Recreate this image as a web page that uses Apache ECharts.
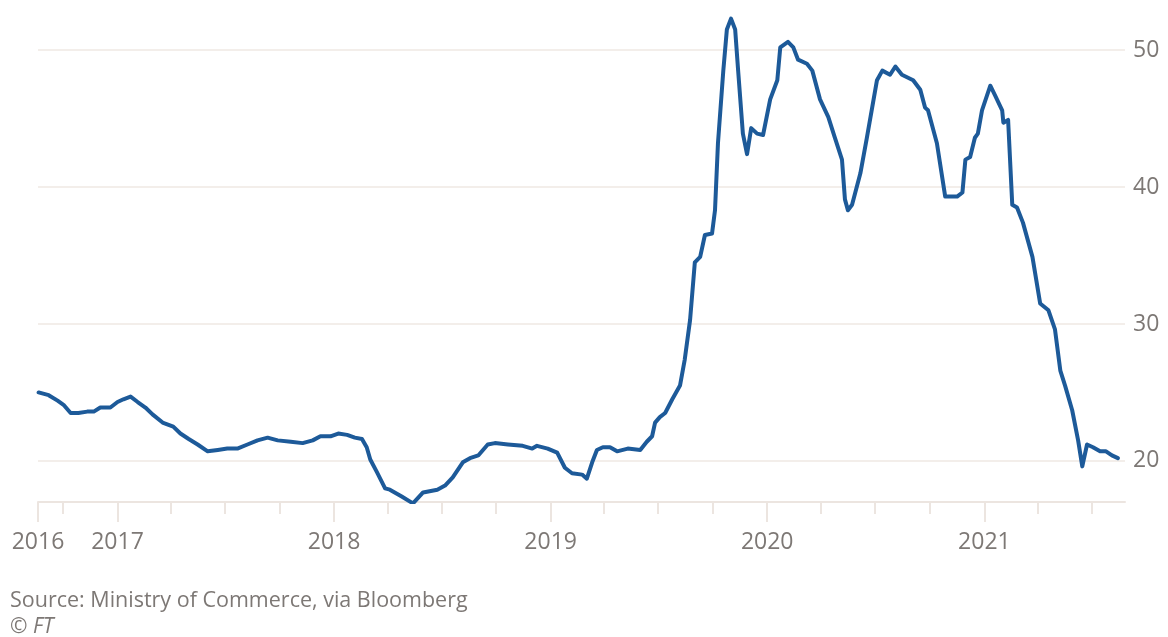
<!DOCTYPE html>
<html>
<head>
<meta charset="utf-8">
<script src="https://cdn.jsdelivr.net/npm/echarts@6/dist/echarts.min.js"></script>
<style>
  html, body { margin: 0; padding: 0; background: #fff; }
  #chart { width: 1168px; height: 637px; }
</style>
</head>
<body>
<div id="chart"></div>
<script>
// weekly-ish readings
var dates = [
  '2016-08-21', '2016-09-07', '2016-09-22', '2016-10-02', '2016-10-14', '2016-10-27', '2016-11-11', '2016-11-22',
  '2016-12-03', '2016-12-20', '2017-01-01', '2017-01-11', '2017-01-23', '2017-02-04', '2017-02-17', '2017-03-01',
  '2017-03-18', '2017-04-05', '2017-04-17', '2017-05-01', '2017-05-16', '2017-06-02', '2017-06-19', '2017-07-05',
  '2017-07-22', '2017-08-08', '2017-08-25', '2017-09-11', '2017-09-28', '2017-10-20', '2017-11-09', '2017-11-26',
  '2017-12-09', '2017-12-26', '2018-01-08', '2018-01-23', '2018-02-05', '2018-02-17', '2018-02-25', '2018-03-03',
  '2018-03-14', '2018-03-28', '2018-04-05', '2018-04-25', '2018-05-14', '2018-05-31', '2018-06-24', '2018-07-07',
  '2018-07-20', '2018-08-06', '2018-08-18', '2018-09-01', '2018-09-17', '2018-09-29', '2018-10-21', '2018-11-15',
  '2018-12-01', '2018-12-09', '2018-12-27', '2019-01-12', '2019-01-25', '2019-02-06', '2019-02-23', '2019-03-03',
  '2019-03-12', '2019-03-20', '2019-03-30', '2019-04-11', '2019-04-23', '2019-05-11', '2019-06-01', '2019-06-12',
  '2019-06-21', '2019-06-26', '2019-07-04', '2019-07-13', '2019-07-25', '2019-08-07', '2019-08-15', '2019-08-24',
  '2019-09-01', '2019-09-10', '2019-09-18', '2019-09-30', '2019-10-05', '2019-10-10', '2019-10-19', '2019-10-25',
  '2019-11-01', '2019-11-08', '2019-11-13', '2019-11-21', '2019-11-28', '2019-12-05', '2019-12-15', '2019-12-25',
  '2020-01-06', '2020-01-18', '2020-01-23', '2020-02-05', '2020-02-14', '2020-02-22', '2020-03-08', '2020-03-17',
  '2020-03-30', '2020-04-13', '2020-04-24', '2020-05-06', '2020-05-11', '2020-05-16', '2020-05-23', '2020-06-06',
  '2020-06-17', '2020-07-04', '2020-07-13', '2020-07-26', '2020-08-04', '2020-08-15', '2020-09-03', '2020-09-15',
  '2020-09-23', '2020-09-28', '2020-10-13', '2020-10-27', '2020-11-16', '2020-11-25', '2020-11-30', '2020-12-08',
  '2020-12-16', '2020-12-21', '2020-12-28', '2021-01-11', '2021-01-19', '2021-01-31', '2021-02-02', '2021-02-10',
  '2021-02-17', '2021-02-25', '2021-03-07', '2021-03-23', '2021-04-05', '2021-04-19', '2021-04-30', '2021-05-09',
  '2021-05-17', '2021-05-29', '2021-06-08', '2021-06-15', '2021-06-23', '2021-07-03', '2021-07-15', '2021-07-25',
  '2021-08-04', '2021-08-14'
]
var values = [
  25.0, 24.8, 24.4, 24.1, 23.5, 23.5, 23.6, 23.6,
  23.9, 23.9, 24.3, 24.5, 24.7, 24.3, 23.9, 23.4,
  22.8, 22.5, 22.0, 21.6, 21.2, 20.7, 20.8, 20.9,
  20.9, 21.2, 21.5, 21.7, 21.5, 21.4, 21.3, 21.5,
  21.8, 21.8, 22.0, 21.9, 21.7, 21.6, 21.0, 20.1,
  19.2, 18.0, 17.9, 17.4, 16.9, 17.7, 17.9, 18.2,
  18.8, 19.9, 20.2, 20.4, 21.2, 21.3, 21.2, 21.1,
  20.9, 21.1, 20.9, 20.6, 19.5, 19.1, 19.0, 18.7,
  19.9, 20.8, 21.0, 21.0, 20.7, 20.9, 20.8, 21.4,
  21.8, 22.8, 23.2, 23.5, 24.5, 25.5, 27.4, 30.3,
  34.5, 34.9, 36.5, 36.6, 38.3, 43.2, 48.5, 51.5,
  52.3, 51.5, 48.5, 43.9, 42.4, 44.3, 43.9, 43.8,
  46.4, 47.8, 50.2, 50.6, 50.2, 49.3, 49.0, 48.5,
  46.4, 45.1, 43.6, 42.0, 39.1, 38.3, 38.7, 41.0,
  43.6, 47.8, 48.5, 48.2, 48.8, 48.2, 47.8, 47.1,
  45.8, 45.6, 43.2, 39.3, 39.3, 39.6, 42.0, 42.2,
  43.6, 43.9, 45.6, 47.4, 46.7, 45.6, 44.7, 44.9,
  38.7, 38.5, 37.4, 34.9, 31.5, 31.0, 29.6, 26.6,
  25.5, 23.7, 21.5, 19.6, 21.2, 21.0, 20.7, 20.7,
  20.4, 20.2
]
var xStart = '2016-08-20'
var xEnd = '2021-08-26'
var yearTicks = ['2016-08-20', '2017-01-01', '2018-01-01', '2019-01-01', '2020-01-01', '2021-01-01']
var quarterTicks = [
  '2016-10-01', '2017-04-01', '2017-07-01', '2017-10-01', '2018-04-01', '2018-07-01', '2018-10-01',
  '2019-04-01', '2019-07-01', '2019-10-01', '2020-04-01', '2020-07-01', '2020-10-01',
  '2021-04-01', '2021-07-01'
]
var yTicks = [20, 30, 40, 50]

// dates as UTC ms so a plain value axis can take custom ticks
function ts (s) {
  var p = s.split('-')
  return Date.UTC(+p[0], +p[1] - 1, +p[2])
}

var chart = echarts.init(document.getElementById('chart'))
var lineCol = '#ece5e0'
var textCol = '#7d7875'
var font = "'Open Sans', 'DejaVu Sans', sans-serif"

var option = {
  backgroundColor: '#fff',
  animation: false,
  grid: { left: 38, right: 43, top: 9, bottom: 135 },
  xAxis: [
    {
      type: 'value',
      position: 'bottom',
      min: ts(xStart),
      max: ts(xEnd),
      axisLine: { show: true, lineStyle: { color: lineCol, width: 2 } },
      axisTick: { show: true, length: 20, customValues: yearTicks.map(ts), lineStyle: { color: lineCol, width: 2 } },
      axisLabel: {
        customValues: yearTicks.map(ts),
        color: textCol,
        fontFamily: font,
        fontSize: 23,
        margin: 29,
        formatter: function (v) {
          return String(new Date(v).getUTCFullYear())
        }
      },
      splitLine: { show: false }
    },
    {
      type: 'value',
      position: 'bottom',
      min: ts(xStart),
      max: ts(xEnd),
      axisLine: { show: false },
      axisTick: { show: true, length: 12, customValues: quarterTicks.map(ts), lineStyle: { color: lineCol, width: 2 } },
      axisLabel: { show: false },
      splitLine: { show: false }
    }
  ],
  yAxis: {
    type: 'value',
    position: 'right',
    min: 17,
    max: 53,
    axisLine: { show: false },
    axisTick: { show: false, customValues: yTicks },
    axisLabel: {
      customValues: yTicks,
      color: textCol,
      fontFamily: font,
      fontSize: 23,
      margin: 8,
      padding: [4, 0, 0, 0]
    },
    splitLine: { show: true, lineStyle: { color: '#f3eeea', width: 2 } }
  },
  series: [
    {
      type: 'line',
      xAxisIndex: 0,
      data: dates.map(function (d, i) { return [ts(d), values[i]] }),
      showSymbol: false,
      lineStyle: { color: '#1d5a99', width: 4, join: 'round', cap: 'round' },
      z: 5
    }
  ],
  graphic: [
    {
      type: 'text',
      left: 10,
      top: 590,
      style: { text: 'Source: Ministry of Commerce, via Bloomberg', fill: textCol, font: '21.5px ' + font }
    },
    {
      type: 'text',
      left: 10,
      top: 617,
      style: { text: '© FT', fill: textCol, font: 'italic 21px ' + font }
    }
  ]
}
chart.setOption(option)
</script>
</body>
</html>
